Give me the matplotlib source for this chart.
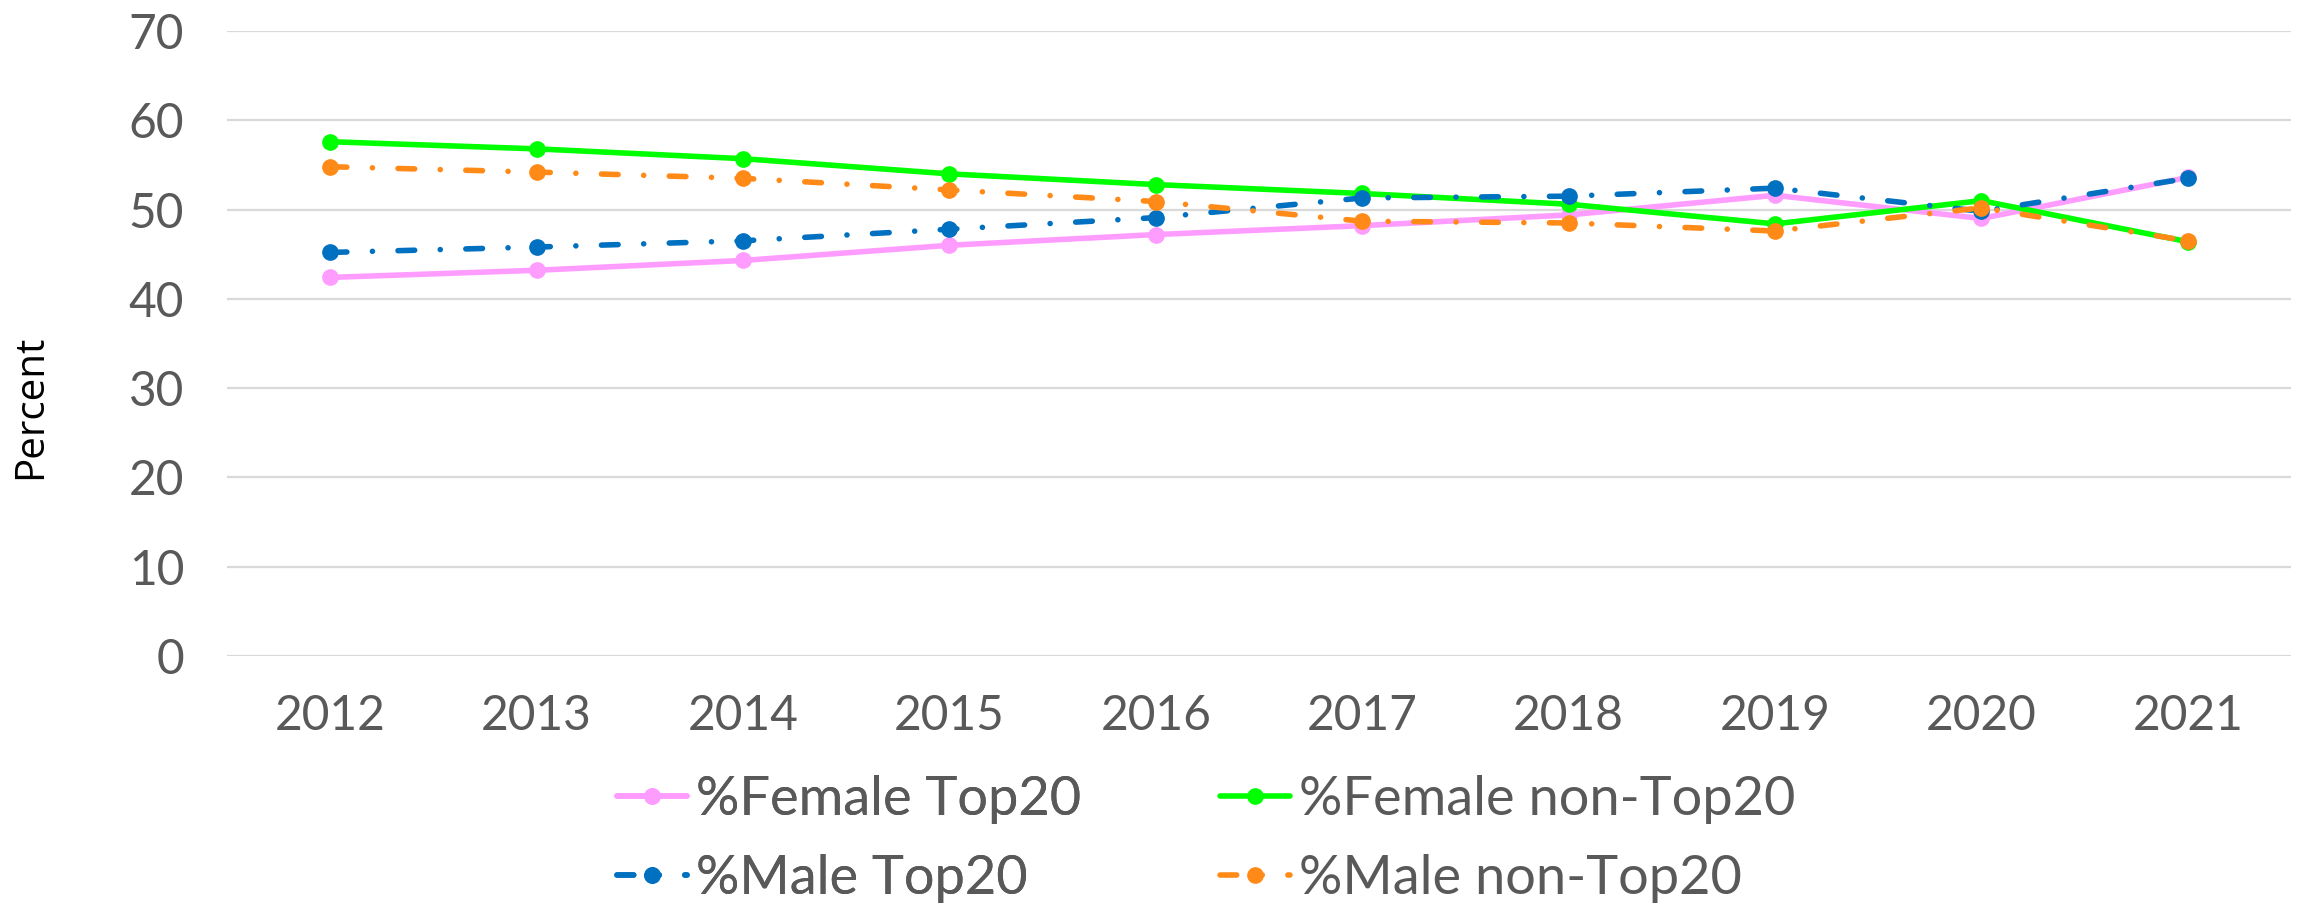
import matplotlib
matplotlib.use("Agg")
import matplotlib.pyplot as plt

years = ["2012", "2013", "2014", "2015", "2016", "2017", "2018", "2019", "2020", "2021"]
female_top20 = [42.4, 43.2, 44.3, 46.0, 47.2, 48.2, 49.4, 51.6, 49.0, 53.6]
female_non_top20 = [57.6, 56.8, 55.7, 54.0, 52.8, 51.8, 50.6, 48.4, 51.0, 46.4]
male_top20 = [45.2, 45.8, 46.5, 47.8, 49.1, 51.3, 51.5, 52.4, 49.8, 53.5]
male_non_top20 = [54.8, 54.2, 53.5, 52.2, 50.9, 48.7, 48.5, 47.6, 50.2, 46.5]
labels = ["%Female Top20", "%Female non-Top20", "%Male Top20", "%Male non-Top20"]
yticks = [0, 10, 20, 30, 40, 50, 60, 70]

TEXT = "#595959"
FONT = "Lato"

fig = plt.figure(figsize=(23, 9.05), dpi=100)
ax = fig.add_axes([227/2300, 1-656/905, (2291-227)/2300, (656-31)/905])

x = list(range(len(years)))
lw = 4.0
ms = 11
dashdot = (3.0, 4.6, 0.01, 4.6)

l1, = ax.plot(x, female_top20, color="#FF9CFF", lw=lw, marker="o", ms=ms,
              solid_capstyle="round", zorder=3)
l2, = ax.plot(x, female_non_top20, color="#00FF00", lw=lw, marker="o", ms=ms,
              solid_capstyle="round", zorder=4)
l3, = ax.plot(x, male_top20, color="#0070C0", lw=lw, marker="o", ms=ms,
              dashes=dashdot, dash_capstyle="round", zorder=5)
l4, = ax.plot(x, male_non_top20, color="#FF8A17", lw=lw, marker="o", ms=ms,
              dashes=dashdot, dash_capstyle="round", zorder=6)

ax.set_xlim(-0.5, len(years) - 0.5)
ax.set_ylim(0, 70)
ax.set_yticks(yticks)
ax.set_xticks(x)
ax.set_xticklabels(years)
ax.grid(axis="y", color="#D9D9D9", lw=1.6, zorder=0)
ax.set_axisbelow(True)
for s in ax.spines.values():
    s.set_visible(False)
ax.tick_params(axis="both", length=0, colors=TEXT, labelsize=34.5)
ax.tick_params(axis="y", pad=31)
ax.tick_params(axis="x", pad=27)
for t in ax.get_xticklabels() + ax.get_yticklabels():
    t.set_fontfamily(FONT)

fig.text(31/2300, 1-407/905, "Percent", rotation=90, ha="center", va="center",
         fontsize=29, fontfamily="Open Sans", color="black")

leg_kw = dict(frameon=False, prop={"family": FONT, "size": 39}, labelcolor=TEXT,
              handlelength=1.3, handletextpad=0.15, borderpad=0, borderaxespad=0,
              labelspacing=0.55, numpoints=1)
leg1 = fig.legend([l1, l3], [labels[0], labels[2]], loc="center left",
                  bbox_to_anchor=(617/2300, 1-839/905), **leg_kw)
fig.add_artist(leg1)
leg2 = fig.legend([l2, l4], [labels[1], labels[3]], loc="center left",
                  bbox_to_anchor=(1220/2300, 1-839/905), **leg_kw)

fig.savefig("out.png", dpi=100)
